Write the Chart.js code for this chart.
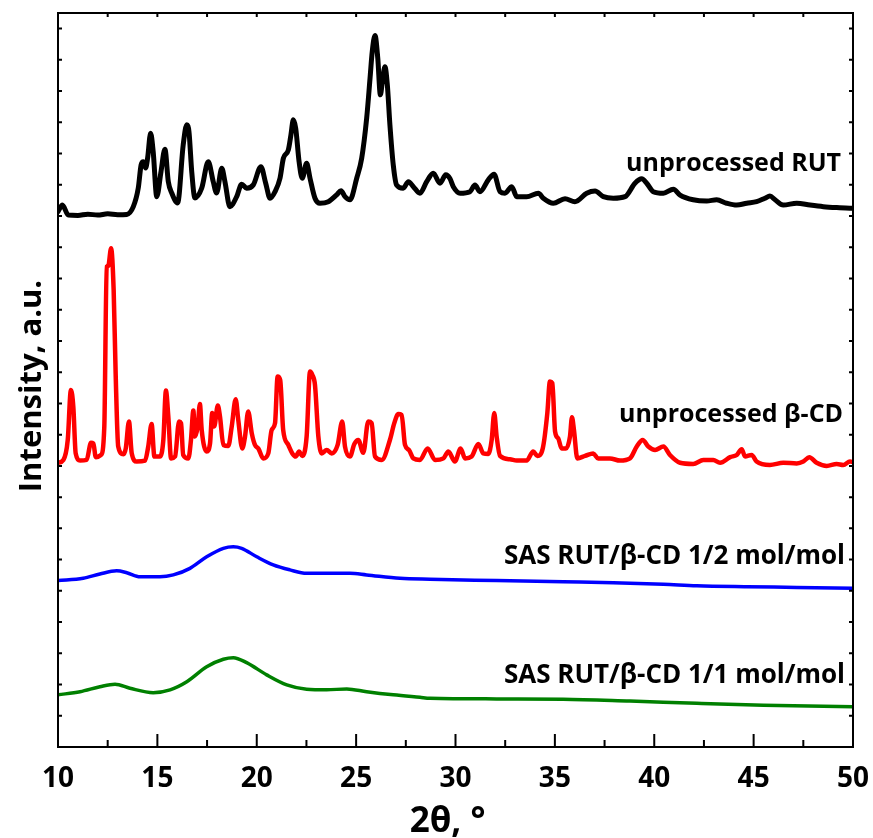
<!DOCTYPE html>
<html>
<head>
<meta charset="utf-8">
<script src="https://cdn.jsdelivr.net/npm/chart.js@4"></script>
<style>
  html, body { margin: 0; padding: 0; background: #fff; }
  canvas { display: block; }
</style>
</head>
<body>
<canvas id="xrd" width="873" height="838"></canvas>
<script>
// XRD patterns, 2θ in degrees, intensities offset per sample (a.u.)
const rutTheta = [10.0, 10.22, 10.52, 11.0, 11.5, 12.0, 12.5, 13.0, 13.46, 13.79, 14.04, 14.18, 14.29, 14.41, 14.51, 14.66, 14.79, 14.97, 15.18, 15.38, 15.55, 15.72, 16.02, 16.30, 16.48, 16.59, 16.73, 16.89, 17.23, 17.56, 17.81, 17.98, 18.24, 18.40, 18.65, 18.99, 19.24, 19.49, 19.83, 20.21, 20.45, 20.67, 20.92, 21.17, 21.34, 21.59, 21.72, 21.84, 21.96, 22.13, 22.29, 22.51, 22.68, 22.93, 23.18, 23.60, 24.02, 24.24, 24.44, 24.69, 25.03, 25.28, 25.53, 25.70, 25.81, 25.95, 26.09, 26.22, 26.32, 26.45, 26.57, 26.70, 26.87, 27.04, 27.37, 27.63, 27.88, 28.21, 28.55, 28.88, 29.22, 29.51, 29.72, 29.89, 30.23, 30.73, 30.98, 31.23, 31.65, 31.94, 32.24, 32.49, 32.83, 33.08, 33.58, 34.17, 34.42, 34.92, 35.51, 36.01, 36.60, 37.02, 37.44, 37.94, 38.53, 39.03, 39.37, 39.62, 39.95, 40.46, 40.96, 41.30, 41.96, 42.64, 43.14, 43.64, 44.15, 44.65, 45.15, 45.57, 45.82, 46.08, 46.49, 47.17, 47.84, 48.51, 49.18, 49.85, 50.0];
const rutIntensity = [17.14, 17.35, 17.03, 17.02, 17.06, 17.03, 17.07, 17.04, 17.05, 17.30, 17.90, 18.63, 18.74, 18.54, 18.86, 19.65, 19.06, 17.62, 18.41, 19.14, 18.10, 17.74, 17.42, 19.28, 19.92, 19.70, 18.41, 17.58, 17.89, 18.74, 18.10, 17.74, 18.53, 18.10, 17.30, 17.62, 18.02, 17.89, 18.00, 18.58, 18.05, 17.57, 17.78, 18.21, 18.85, 19.12, 19.60, 20.08, 19.81, 18.74, 18.21, 18.69, 18.21, 17.57, 17.41, 17.46, 17.68, 17.81, 17.62, 17.52, 18.21, 18.85, 20.13, 21.41, 22.26, 22.78, 22.05, 20.88, 21.30, 21.78, 21.20, 19.92, 18.63, 17.99, 17.89, 18.10, 17.94, 17.73, 18.10, 18.37, 18.05, 18.32, 18.20, 17.94, 17.73, 17.78, 17.99, 17.78, 18.16, 18.34, 17.78, 17.73, 17.94, 17.62, 17.62, 17.73, 17.57, 17.41, 17.55, 17.46, 17.73, 17.80, 17.62, 17.57, 17.62, 18.05, 18.19, 18.05, 17.78, 17.73, 17.86, 17.67, 17.52, 17.48, 17.52, 17.41, 17.35, 17.41, 17.46, 17.57, 17.64, 17.52, 17.35, 17.41, 17.35, 17.30, 17.27, 17.25, 17.25];

const cdTheta = [10.0, 10.27, 10.49, 10.65, 10.77, 10.89, 11.11, 11.44, 11.66, 11.78, 11.90, 12.16, 12.33, 12.45, 12.53, 12.67, 12.80, 12.90, 13.03, 13.29, 13.41, 13.57, 13.71, 13.96, 14.38, 14.54, 14.71, 14.85, 15.13, 15.30, 15.43, 15.55, 15.69, 15.89, 16.09, 16.19, 16.30, 16.56, 16.69, 16.81, 16.89, 17.03, 17.14, 17.23, 17.48, 17.65, 17.76, 17.86, 18.04, 18.15, 18.32, 18.57, 18.74, 18.94, 19.07, 19.27, 19.41, 19.57, 19.75, 19.91, 20.08, 20.33, 20.58, 20.75, 20.92, 21.05, 21.18, 21.33, 21.59, 21.79, 21.96, 22.13, 22.29, 22.51, 22.68, 22.80, 22.93, 23.10, 23.27, 23.52, 23.77, 24.07, 24.30, 24.44, 24.69, 24.91, 25.11, 25.36, 25.61, 25.78, 25.95, 26.29, 26.70, 26.92, 27.12, 27.29, 27.46, 27.66, 27.88, 28.21, 28.60, 28.97, 29.39, 29.64, 29.97, 30.26, 30.48, 30.81, 31.15, 31.40, 31.65, 31.82, 31.95, 32.07, 32.24, 32.74, 33.08, 33.58, 33.91, 34.12, 34.39, 34.62, 34.75, 34.87, 35.01, 35.17, 35.34, 35.56, 35.76, 35.86, 35.96, 36.13, 36.52, 36.93, 37.18, 37.77, 38.28, 38.78, 39.12, 39.42, 39.70, 40.04, 40.46, 40.79, 41.30, 41.96, 42.47, 42.97, 43.31, 43.82, 44.15, 44.40, 44.57, 44.90, 45.15, 45.82, 46.49, 47.17, 47.50, 47.80, 48.17, 48.68, 49.18, 49.51, 49.85, 50.0];
const cdIntensity = [9.10, 9.19, 9.83, 11.43, 10.90, 9.40, 9.17, 9.19, 9.74, 9.72, 9.28, 9.35, 10.26, 15.38, 15.40, 15.97, 14.63, 11.97, 9.62, 9.37, 9.56, 10.42, 9.40, 9.14, 9.17, 9.62, 10.34, 9.30, 9.30, 9.83, 11.41, 10.58, 9.24, 9.30, 10.42, 10.37, 9.35, 9.24, 9.83, 10.77, 9.94, 10.26, 10.98, 10.15, 9.46, 9.72, 10.69, 10.26, 10.93, 10.58, 9.67, 9.64, 10.26, 11.13, 10.47, 9.56, 9.94, 10.74, 10.04, 9.67, 9.56, 9.24, 9.40, 10.15, 10.37, 11.86, 11.75, 10.15, 9.67, 9.40, 9.30, 9.46, 9.32, 9.94, 12.02, 11.91, 11.59, 9.94, 9.40, 9.51, 9.40, 9.67, 10.42, 9.62, 9.30, 9.70, 9.83, 9.42, 10.42, 10.37, 9.30, 9.19, 9.83, 10.37, 10.66, 10.63, 9.67, 9.51, 9.24, 9.19, 9.56, 9.19, 9.24, 9.46, 9.14, 9.56, 9.24, 9.30, 9.70, 9.40, 9.38, 9.83, 10.69, 9.94, 9.32, 9.21, 9.17, 9.17, 9.46, 9.32, 9.56, 10.69, 11.70, 11.65, 10.10, 9.88, 9.56, 9.56, 9.94, 10.56, 10.15, 9.24, 9.32, 9.40, 9.24, 9.24, 9.17, 9.24, 9.62, 9.83, 9.62, 9.51, 9.62, 9.35, 9.10, 9.06, 9.19, 9.19, 9.10, 9.28, 9.35, 9.53, 9.30, 9.35, 9.14, 9.03, 9.10, 9.08, 9.14, 9.28, 9.10, 9.00, 9.06, 9.03, 9.14, 9.12];

const sas12Theta = [10.0, 11.27, 12.11, 12.95, 13.46, 14.13, 15.13, 15.80, 16.64, 17.48, 18.32, 18.82, 19.24, 20.00, 20.83, 21.67, 22.51, 23.85, 24.69, 25.53, 27.21, 28.72, 32.07, 35.42, 37.94, 40.46, 42.14, 44.65, 47.17, 50.0];
const sas12Intensity = [5.33, 5.40, 5.54, 5.64, 5.58, 5.45, 5.45, 5.51, 5.72, 6.09, 6.36, 6.41, 6.36, 6.09, 5.83, 5.67, 5.56, 5.56, 5.56, 5.51, 5.40, 5.37, 5.33, 5.29, 5.26, 5.21, 5.16, 5.13, 5.11, 5.08];

const sas11Theta = [10.0, 11.11, 12.11, 12.87, 13.62, 14.79, 15.64, 16.48, 17.48, 18.32, 18.82, 19.49, 20.50, 21.51, 22.51, 23.52, 24.53, 25.53, 26.87, 28.21, 28.72, 32.07, 35.42, 38.78, 42.14, 45.49, 50.0];
const sas11Intensity = [1.67, 1.77, 1.93, 2.01, 1.88, 1.74, 1.83, 2.09, 2.57, 2.81, 2.86, 2.70, 2.31, 1.99, 1.85, 1.83, 1.86, 1.77, 1.67, 1.59, 1.56, 1.54, 1.53, 1.47, 1.40, 1.34, 1.29];

// axis ticks
const xMajorTicks = [10, 15, 20, 25, 30, 35, 40, 45, 50];
const xMinorTicks = [12.5, 17.5, 22.5, 27.5, 32.5, 37.5, 42.5, 47.5];
const yTicks = [1, 2, 3, 4, 5, 6, 7, 8, 9, 10, 11, 12, 13, 14, 15, 16, 17, 18, 19, 20, 21, 22, 23];

// axis titles
const xTitle = '2\u03b8, \u00b0';
const yTitle = 'Intensity, a.u.';

// sample names, placed at the right end of each pattern
const sampleNames = ['unprocessed RUT', 'unprocessed \u03b2-CD', 'SAS RUT/\u03b2-CD 1/2 mol/mol', 'SAS RUT/\u03b2-CD 1/1 mol/mol'];
const nameTheta = [49.4, 49.5, 49.6, 49.6];
const nameLevel = [18.44, 10.42, 5.86, 2.06];
const nameSize = [25, 25, 26, 26];

const pairs = (xs, ys) => xs.map((v, i) => ({ x: v, y: ys[i] }));

const FONT = '"Open Sans", "DejaVu Sans", sans-serif';

const framePlugin = {
  id: 'frame',
  afterDatasetsDraw(chart) {
    const { ctx, chartArea: a, scales: { x, y } } = chart;
    ctx.save();
    ctx.strokeStyle = '#000';
    ctx.lineWidth = 2;
    ctx.strokeRect(a.left, a.top, a.right - a.left, a.bottom - a.top);
    ctx.beginPath();
    xMajorTicks.forEach(v => {
      const px = x.getPixelForValue(v);
      ctx.moveTo(px, a.bottom); ctx.lineTo(px, a.bottom - 13);
      ctx.moveTo(px, a.top); ctx.lineTo(px, a.top + 4);
    });
    xMinorTicks.forEach(v => {
      const px = x.getPixelForValue(v);
      ctx.moveTo(px, a.bottom); ctx.lineTo(px, a.bottom - 7);
      ctx.moveTo(px, a.top); ctx.lineTo(px, a.top + 4);
    });
    yTicks.forEach(v => {
      const py = y.getPixelForValue(v);
      ctx.moveTo(a.left, py); ctx.lineTo(a.left + 4, py);
      ctx.moveTo(a.right, py); ctx.lineTo(a.right - 4, py);
    });
    ctx.stroke();

    ctx.fillStyle = '#000';

    // x tick labels
    ctx.font = 'bold 28px ' + FONT;
    ctx.textAlign = 'center';
    ctx.textBaseline = 'alphabetic';
    xMajorTicks.forEach(v => {
      ctx.fillText(String(v), x.getPixelForValue(v), a.bottom + 40);
    });

    // axis titles
    ctx.font = 'bold 35px ' + FONT;
    ctx.fillText(xTitle, x.getPixelForValue(29.6), a.bottom + 85);
    ctx.save();
    ctx.translate(41, (a.top + a.bottom) / 2 + 6);
    ctx.rotate(-Math.PI / 2);
    ctx.font = 'bold 31px ' + FONT;
    ctx.fillText(yTitle, 0, 0);
    ctx.restore();

    // sample names
    ctx.textAlign = 'right';
    sampleNames.forEach((t, i) => {
      ctx.font = 'bold ' + nameSize[i] + 'px ' + FONT;
      ctx.fillText(t, x.getPixelForValue(nameTheta[i]), y.getPixelForValue(nameLevel[i]));
    });
    ctx.restore();
  }
};

const lineStyle = (color, width) => ({
  borderColor: color,
  backgroundColor: color,
  borderWidth: width,
  pointRadius: 0,
  fill: false,
  cubicInterpolationMode: 'monotone',
  borderJoinStyle: 'round',
  borderCapStyle: 'round'
});

new Chart(document.getElementById('xrd'), {
  type: 'line',
  data: {
    datasets: [
      { label: sampleNames[0], data: pairs(rutTheta, rutIntensity), ...lineStyle('#000000', 5) },
      { label: sampleNames[1], data: pairs(cdTheta, cdIntensity), ...lineStyle('#ff0000', 4.5) },
      { label: sampleNames[2], data: pairs(sas12Theta, sas12Intensity), ...lineStyle('#0000ff', 3.5) },
      { label: sampleNames[3], data: pairs(sas11Theta, sas11Intensity), ...lineStyle('#008000', 3.5) }
    ]
  },
  options: {
    responsive: false,
    animation: false,
    devicePixelRatio: 1,
    layout: { padding: { top: 13, right: 20, left: 0, bottom: 0 } },
    plugins: { legend: { display: false }, tooltip: { enabled: false } },
    scales: {
      x: {
        type: 'linear',
        min: 10,
        max: 50,
        border: { display: false },
        grid: { display: false, drawTicks: false },
        ticks: { display: false },
        afterFit: s => { s.height = 91; }
      },
      y: {
        type: 'linear',
        min: 0,
        max: 23.5,
        border: { display: false },
        grid: { display: false, drawTicks: false },
        ticks: { display: false },
        afterFit: s => { s.width = 58; }
      }
    }
  },
  plugins: [framePlugin]
});
</script>
</body>
</html>
